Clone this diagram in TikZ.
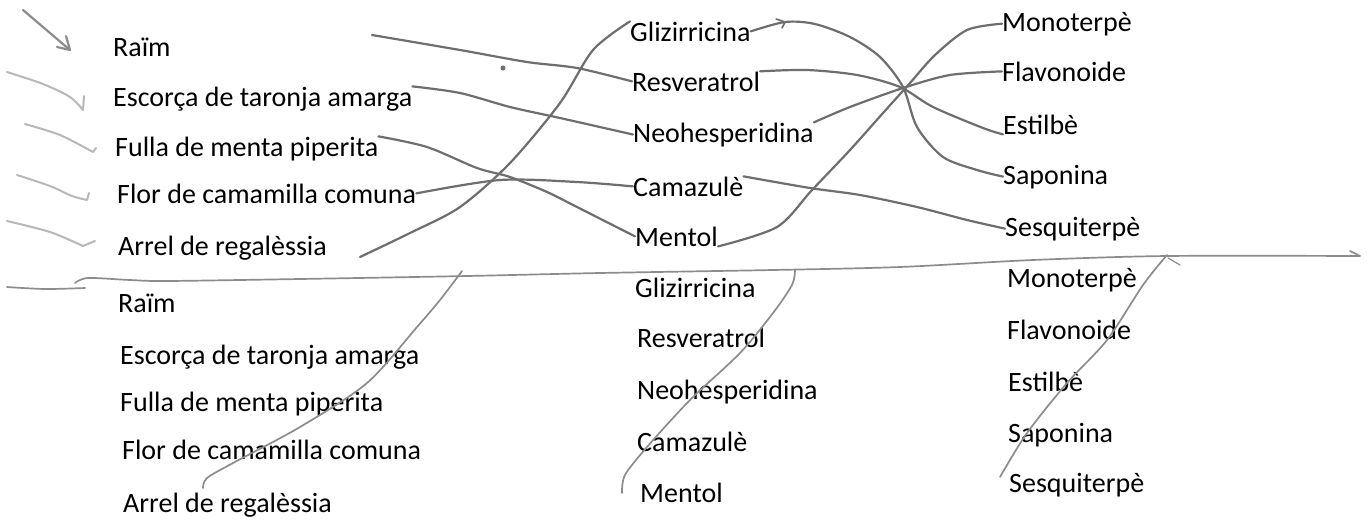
\documentclass[tikz,border=0pt]{standalone}
\usepackage{fontspec}
\setmainfont{Carlito}
\definecolor{pencil}{HTML}{6E6E6E}
\definecolor{pencillight}{HTML}{B8B8B8}
\definecolor{pencilmid}{HTML}{8C8C8C}
\begin{document}
\begin{tikzpicture}[x=1pt,y=-1pt,
  lbl/.style={anchor=base west,inner sep=0pt,font=\fontsize{28}{30}\selectfont},
  stroke/.style={draw=pencil,line width=2.2pt,line cap=round,line join=round},
  faint/.style={draw=pencillight,line width=2pt,line cap=round,line join=round},
  lower/.style={draw=pencilmid,line width=1.7pt,line cap=round,line join=round}]
\useasboundingbox (0,0) rectangle (1367,528);
\fill[white] (0,0) rectangle (1367,528);
% ---------- top block ----------
\node[lbl] (L1) at (113,56) {Raïm};
\node[lbl] (L2) at (113,106) {Escorça de taronja amarga};
\node[lbl] (L3) at (115,156) {Fulla de menta piperita};
\node[lbl] (L4) at (117,203) {Flor de camamilla comuna};
\node[lbl] (L5) at (118,255) {Arrel de regalèssia};
\node[lbl] (M1) at (630,41) {Glizirricina};
\node[lbl] (M2) at (632,91) {Resveratrol};
\node[lbl] (M3) at (633,142) {Neohesperidina};
\node[lbl] (M4) at (633,196) {Camazulè};
\node[lbl] (M5) at (635,246) {Mentol};
\node[lbl] (R1) at (1002,31) {Monoterpè};
\node[lbl] (R2) at (1002,81) {Flavonoide};
\node[lbl] (R3) at (1003,134) {Estilbè};
\node[lbl] (R4) at (1003,184) {Saponina};
\node[lbl] (R5) at (1005,236) {Sesquiterpè};
% ---------- bottom block ----------
\node[lbl] (l1) at (118,312) {Raïm};
\node[lbl] (l2) at (120,364) {Escorça de taronja amarga};
\node[lbl] (l3) at (120,411) {Fulla de menta piperita};
\node[lbl] (l4) at (122,459) {Flor de camamilla comuna};
\node[lbl] (l5) at (123,512) {Arrel de regalèssia};
\node[lbl] (m1) at (635,297) {Glizirricina};
\node[lbl] (m2) at (637,347) {Resveratrol};
\node[lbl] (m3) at (637,399) {Neohesperidina};
\node[lbl] (m4) at (637,451) {Camazulè};
\node[lbl] (m5) at (640,502) {Mentol};
\node[lbl] (r1) at (1007,287) {Monoterpè};
\node[lbl] (r2) at (1007,339) {Flavonoide};
\node[lbl] (r3) at (1008,391) {Estilbè};
\node[lbl] (r4) at (1008,442) {Saponina};
\node[lbl] (r5) at (1009,492) {Sesquiterpè};
% free starts
\coordinate (s1) at (372,35);
\coordinate (s5) at (360,257);
% ---------- left margin marks ----------
\draw[stroke,draw=pencilmid] (23,10) -- (70,50);
\draw[stroke,draw=pencilmid] (66,36) -- (70,50) -- (57,47);
\draw[faint] plot[smooth] coordinates {(7,72) (43,84) (70,97) (83,110)} -- (84,96);
\draw[faint] plot[smooth] coordinates {(25,124) (60,135) (93,152)} -- (96,148);
\draw[faint] plot[smooth] coordinates {(17,175) (50,186) (72,196) (87,200)} -- (89,193);
\draw[faint] plot[smooth] coordinates {(7,221) (50,232) (83,246)} -- (95,241);
% ---------- top connectors ----------
\draw[stroke] plot[smooth] coordinates {(s1) (460,50) (527,62) (577,68) (M2.west)};
\draw[stroke] plot[smooth] coordinates {(L2.north east) (460,93) (510,107) (560,118) (M3.west)};
\draw[stroke] plot[smooth] coordinates {(L3.north east) (427,147) (477,168) (510,177) (547,192) (577,207) (M5.west)};
\draw[stroke] plot[smooth] coordinates {(L4.east) (500,180) (577,182) (M4.west)};
\draw[stroke] plot[smooth] coordinates {(s5) (410,233) (460,207) (510,163) (560,103) (593,50) (M1.north west)};
\draw[stroke] plot[smooth] coordinates {(M1.east) (785,22) (815,24) (850,37) (880,57) (903,87) (917,127) (943,157) (977,170) (R4.west)};
\draw[stroke,line width=1.6pt] (776,19) -- (785,22) -- (782,28);
\draw[stroke] plot[smooth] coordinates {(M2.north east) (807,70) (857,75) (900,87) (933,107) (983,128) (R3.south west)};
\draw[stroke] plot[smooth] coordinates {(M3.north east) (850,107) (903,88) (950,75) (R2.west)};
\draw[stroke] plot[smooth] coordinates {(M5.south east) (777,227) (812,190) (850,150) (883,113) (910,83) (935,55) (967,30) (R1.west)};
\draw[stroke] plot[smooth] coordinates {(M4.north east) (810,188) (860,195) (917,207) (967,220) (R5.west)};
\fill[pencil] (503,68) circle (2.5pt);
% ---------- bottom block strokes ----------
\coordinate (h0) at (7,287);
\coordinate (h1) at (1360,256);
\draw[lower] plot[smooth] coordinates {(h0) (45,289) (85,288)};
\draw[lower] plot[smooth] coordinates {(75,283) (88,278) (130,280) (167,281) (300,279) (467,276) (600,273) (773,270) (900,267) (1033,260) (1167,256) (h1)};
\draw[lower] (1350,251) -- (h1);
\coordinate (a0) at (462,271);
\coordinate (a1) at (203,488);
\draw[lower] plot[smooth] coordinates {(a0) (440,300) (417,327) (367,383) (300,427) (233,463) (207,478) (a1)};
\coordinate (b0) at (795,270);
\coordinate (b1) at (622,493);
\draw[lower] plot[smooth] coordinates {(b0) (792,285) (773,313) (740,353) (690,400) (647,447) (625,475) (b1)};
\coordinate (c0) at (1167,255);
\coordinate (c1) at (1000,477);
\draw[lower] plot[smooth] coordinates {(c0) (1143,285) (1107,340) (1067,383) (1027,433) (c1)};
\draw[lower,line width=1.2pt] (1168,258) -- (1180,265);
\end{tikzpicture}
\end{document}
